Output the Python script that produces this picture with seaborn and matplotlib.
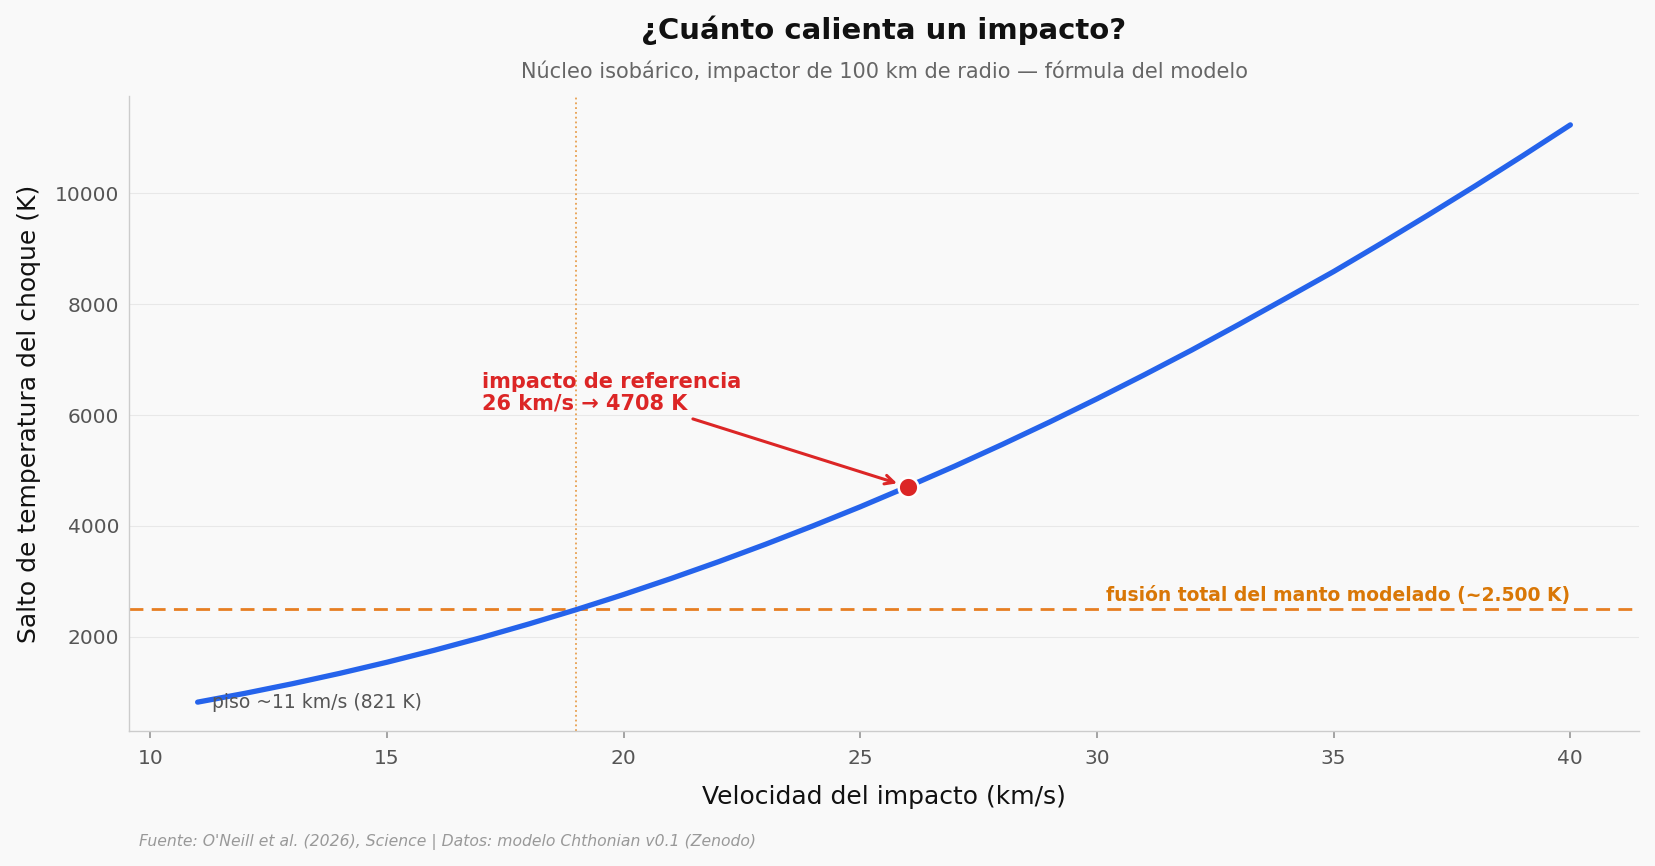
import matplotlib
matplotlib.use("Agg")
import matplotlib.pyplot as plt
import seaborn as sns
import pandas as pd

# Data
velocity = [11, 12, 13, 14, 15, 16, 17, 18, 19, 20, 21, 22, 23, 24, 25,
            26, 27, 28, 29, 30, 31, 32, 33, 34, 35, 36, 37, 38, 39, 40]
temperature = [821, 980, 1153, 1340, 1541, 1757, 1987, 2232, 2490, 2763,
               3051, 3353, 3670, 4001, 4346, 4708, 5081, 5471, 5875, 6294,
               6727, 7173, 7637, 8112, 8590, 9095, 9612, 10140, 10682, 11236]
ref_v, ref_t = 26, 4708
melt_t = 2500
melt_v = 19.0
floor_v, floor_t = 11, 821

BG = "#f9f9f9"
sns.set_theme(style="whitegrid")
plt.rcParams["font.family"] = ["DejaVu Sans"]

fig = plt.figure(figsize=(16.55, 8.66), dpi=100, facecolor=BG)
ax = fig.add_axes([129 / 1655, 1 - 731 / 866, (1639 - 129) / 1655, (731 - 96) / 866])
ax.set_facecolor(BG)

df = pd.DataFrame({"v": velocity, "t": temperature})
sns.lineplot(data=df, x="v", y="t", ax=ax, color="#2563eb", linewidth=3.8, zorder=3)

ax.axhline(melt_t, color="#e67e22", linestyle=(0, (5, 3)), linewidth=2.0, zorder=2)
ax.axvline(melt_v, color="#e8a050", linestyle=":", linewidth=1.3, zorder=2)

ax.scatter([ref_v], [ref_t], s=200, color="#dc2626", edgecolor="white",
           linewidth=1.8, zorder=5)
ax.annotate(f"impacto de referencia\n{ref_v} km/s → {ref_t} K",
            xy=(ref_v, ref_t), xytext=(17.0, 6020),
            ha="left", va="bottom", fontsize=15, fontweight="bold",
            color="#dc2626", linespacing=1.1,
            arrowprops=dict(arrowstyle="->", color="#dc2626", lw=2.2,
                            shrinkA=4, shrinkB=8, mutation_scale=16),
            zorder=6)

ax.text(40, 2575, "fusión total del manto modelado (~2.500 K)",
        ha="right", va="bottom", fontsize=13.5, fontweight="bold",
        color="#d97706")
ax.text(11.3, floor_t, "piso ~11 km/s (821 K)", ha="left", va="center",
        fontsize=13.5, color="#555555")

ax.set_xlabel("Velocidad del impacto (km/s)", fontsize=18, color="#111111",
              labelpad=12)
ax.set_ylabel("Salto de temperatura del choque (K)", fontsize=18,
              color="#111111", labelpad=10)
ax.set_xticks([10, 15, 20, 25, 30, 35, 40])
ax.set_yticks([2000, 4000, 6000, 8000, 10000])
ax.tick_params(axis="both", labelsize=14.5, labelcolor="#555555")
ax.tick_params(axis="x", length=5, color="#999999", bottom=True, pad=8)
ax.tick_params(axis="y", length=0, pad=7)

ax.grid(axis="y", color="#e8e8e8", linewidth=0.8)
ax.grid(axis="x", visible=False)
for s in ["top", "right"]:
    ax.spines[s].set_visible(False)
for s in ["left", "bottom"]:
    ax.spines[s].set_color("#cccccc")
    ax.spines[s].set_linewidth(1.0)

cx = (129 + 1639) / 2 / 1655
fig.text(cx, 1 - 30 / 866, "¿Cuánto calienta un impacto?", ha="center",
         va="center", fontsize=21, fontweight="bold", color="#111111")
fig.text(cx, 1 - 71 / 866,
         "Núcleo isobárico, impactor de 100 km de radio — fórmula del modelo",
         ha="center", va="center", fontsize=15, color="#666666")
fig.text(139 / 1655, 1 - 842 / 866,
         "Fuente: O'Neill et al. (2026), Science | Datos: modelo Chthonian v0.1 (Zenodo)",
         ha="left", va="center", fontsize=11.25, style="italic", color="#999999")

fig.savefig("out.png", dpi=100, facecolor=BG)
